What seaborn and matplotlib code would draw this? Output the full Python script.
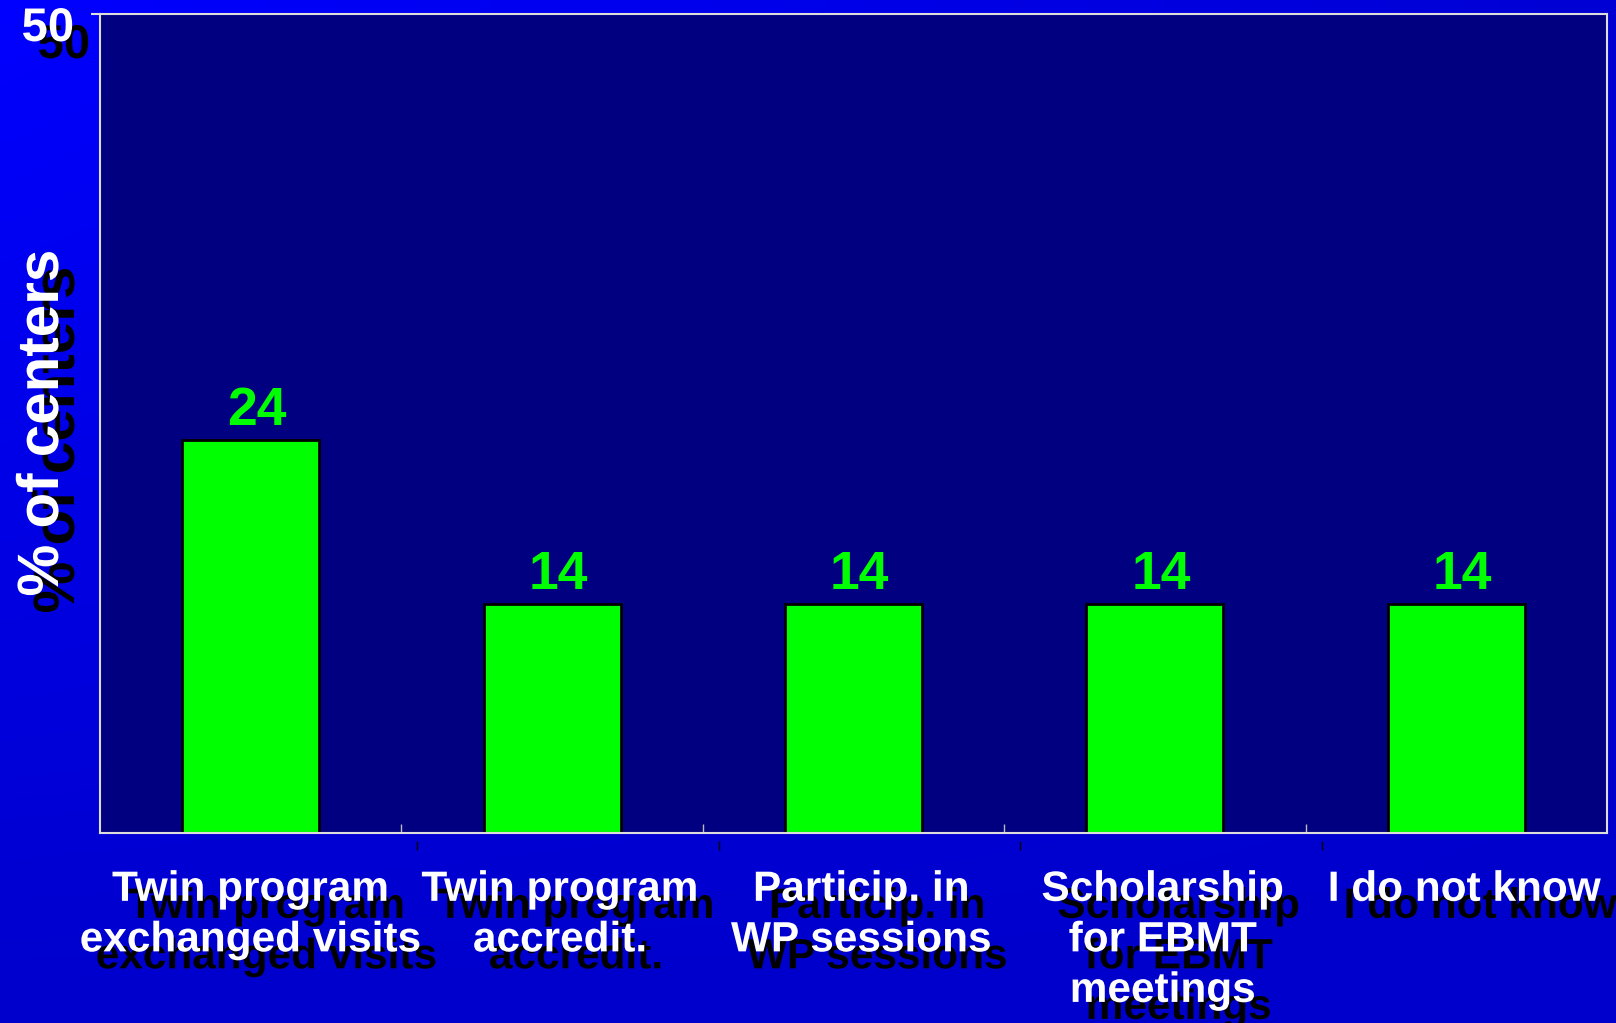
import matplotlib
matplotlib.use('Agg')
import numpy as np
import pandas as pd
import matplotlib.pyplot as plt
import matplotlib.patheffects as pe
from matplotlib.transforms import ScaledTranslation
import seaborn as sns

# Chart values
categories = ["Twin program\nexchanged visits", "Twin program\naccredit.",
              "Particip. in\nWP sessions", "Scholarship\nfor EBMT\nmeetings",
              "I do not know"]
percent = [24, 14, 14, 14, 14]
y_ticks = [50]
y_label = "% of centers"

data = pd.DataFrame({'category': categories, 'percent': percent})

sns.set_theme(style="white")
plt.rcParams['font.family'] = ['Liberation Sans', 'DejaVu Sans']
plt.rcParams['font.weight'] = 'bold'

# Black drop shadow, offset down-right (in points)
shadow_text = [pe.SimplePatchShadow(offset=(11.5, -12.2), shadow_rgbFace='black',
                                    alpha=1.0), pe.Normal()]
shadow_line = [pe.SimpleLineShadow(offset=(11.5, -12.2), shadow_color='black',
                                   alpha=1.0), pe.Normal()]

fig = plt.figure(figsize=(16.16, 10.23), dpi=100)

# Background gradient (bright blue top-left, darker elsewhere)
bg = fig.add_axes([0, 0, 1, 1], zorder=0)
gx, gy = np.meshgrid(np.linspace(0, 1, 200), np.linspace(0, 1, 130))
blue = 204 + 51 * (1 - gx) * (1 - gy) + 8 * gx * (1 - gy)
grad = np.zeros(gx.shape + (3,))
grad[..., 2] = blue / 255.0
bg.imshow(grad, extent=[0, 1, 0, 1], aspect='auto', interpolation='bilinear')
bg.set_axis_off()

# Main plot area
ax = fig.add_axes([0.0619, 0.1857, 0.9325, 0.8006], zorder=1)
ax.set_facecolor('#000080')

sns.barplot(data=data, x='category', y='percent', color='#00FF00',
            saturation=1, edgecolor='black', linewidth=2, width=0.455, ax=ax)

# Value labels above bars (sit a little right of the bar centre)
labels = ax.bar_label(ax.containers[0], labels=[str(v) for v in percent],
                      padding=3, color='#00FF00', fontsize=38.5,
                      fontweight='bold')
for lab in labels:
    lab.xyann = (4.5, lab.xyann[1])

ax.set_ylim(0, 50)
ax.set_xlim(-0.5, len(categories) - 0.5)
ax.set_xlabel('')
ax.set_ylabel('')

for side in ['left', 'right', 'top', 'bottom']:
    ax.spines[side].set_color('#DDDDDD')
    ax.spines[side].set_linewidth(1.5)
    ax.spines[side].set_visible(True)

# Category labels at bar centres, tick marks between categories
ax.set_xticks(np.arange(len(categories)))
ax.set_xticklabels(categories)
ax.set_xticks(np.arange(len(categories) - 1) + 0.5, minor=True)
ax.tick_params(axis='x', which='major', length=0, pad=26.5, labelsize=30.5,
               labelcolor='white')
ax.tick_params(axis='x', which='minor', direction='in', length=6.5,
               width=1, color='#BBBBBB', bottom=True)
for i, lab in enumerate(ax.get_xticklabels()):
    lab.set_fontweight('bold')
    lab.set_linespacing(1.34)
    lab.set_path_effects(shadow_text)
    # the first (widest) label stays centred, the others sit slightly right
    if i > 0:
        lab.set_transform(lab.get_transform() +
                          ScaledTranslation(0.08, 0, fig.dpi_scale_trans))
for t in ax.xaxis.get_minor_ticks():
    t.tick1line.set_path_effects(shadow_line)

# Only the top value on the y axis
ax.set_yticks(y_ticks)
ax.tick_params(axis='y', which='major', direction='out', length=6.5, width=1.5,
               color='#DDDDDD', left=True, pad=12, labelsize=34,
               labelcolor='white')
for lab in ax.get_yticklabels():
    lab.set_fontweight('bold')
    lab.set_path_effects(shadow_text)
    lab.set_transform(lab.get_transform() +
                      ScaledTranslation(0, -0.10, fig.dpi_scale_trans))

# Axis title
fig.text(43 / 1616, 1 - 423 / 1023, y_label, rotation=90, ha='center',
         va='center', fontsize=42, fontweight='bold', color='white',
         path_effects=shadow_text)

fig.savefig('out.png', dpi=100)
